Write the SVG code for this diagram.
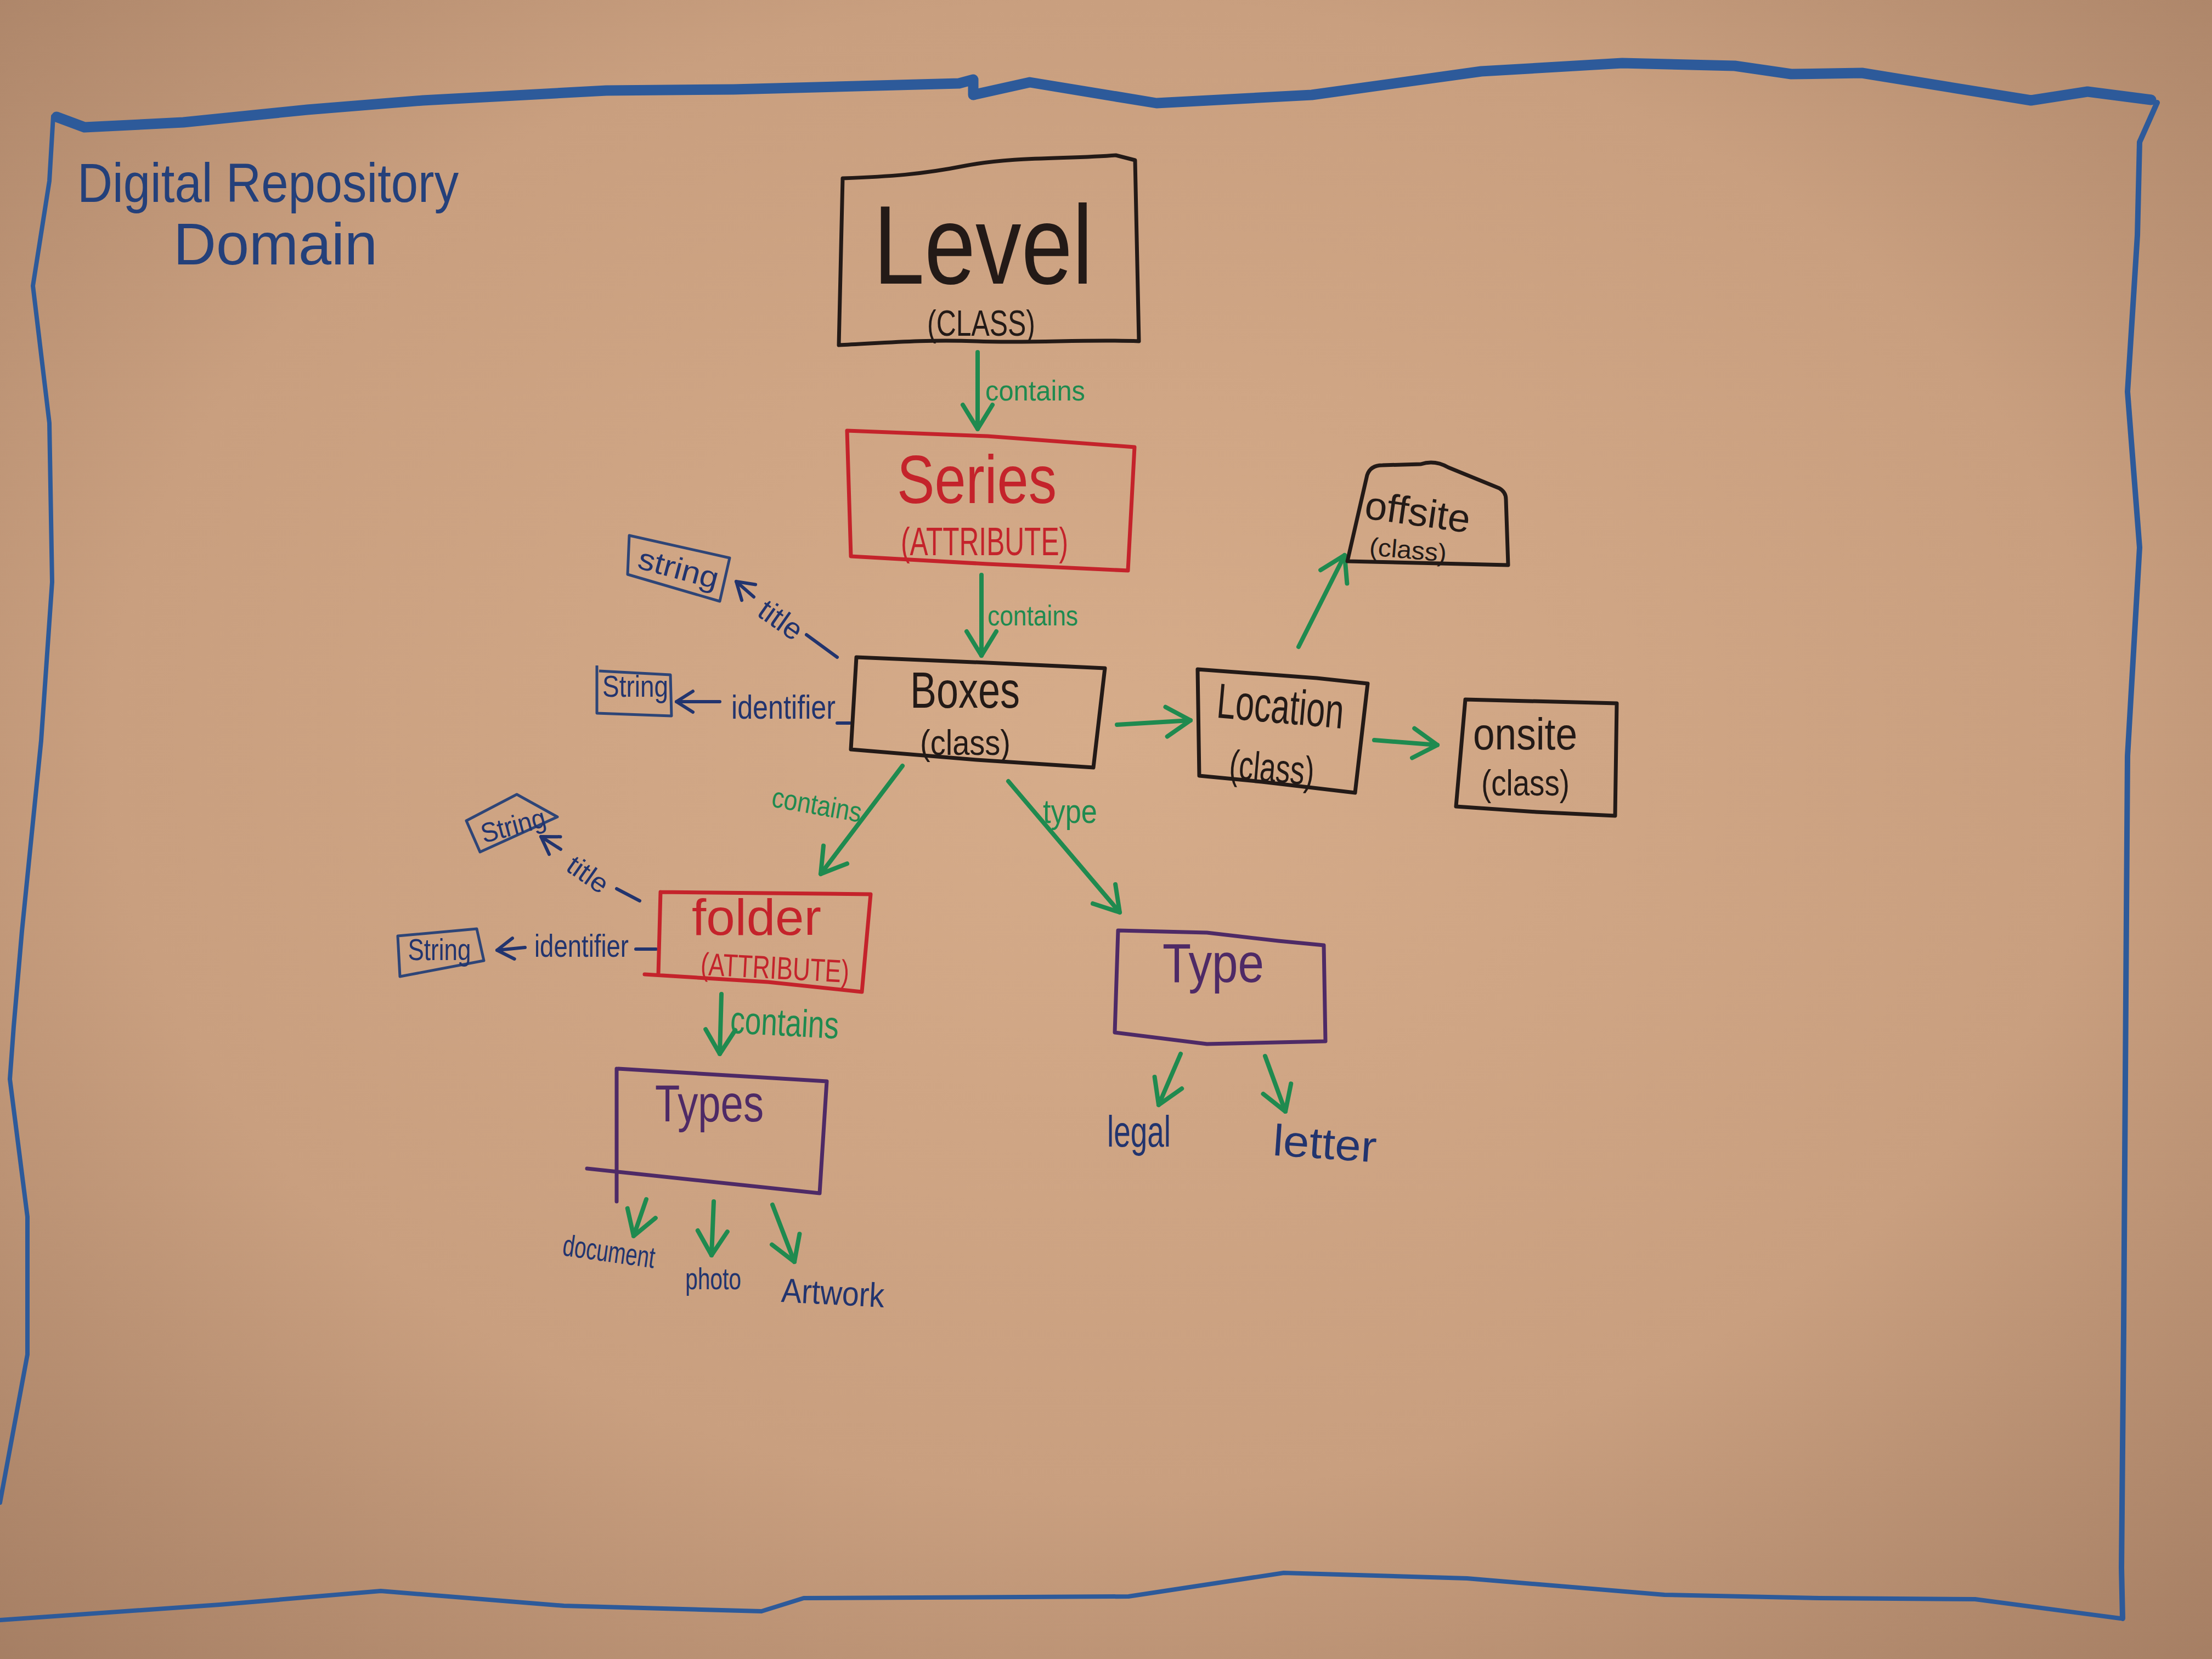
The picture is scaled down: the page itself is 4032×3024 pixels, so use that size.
<svg xmlns="http://www.w3.org/2000/svg" width="4032" height="3024" viewBox="0 0 4032 3024">
<defs>
<radialGradient id="paper" cx="50%" cy="45%" r="75%">
<stop offset="0" stop-color="#d6ac8a"/>
<stop offset="0.6" stop-color="#c99f7f"/>
<stop offset="1" stop-color="#a57e63"/>
</radialGradient>
<marker id="ag" markerUnits="userSpaceOnUse" viewBox="0 0 70 70" refX="62" refY="35" markerWidth="70" markerHeight="70" orient="auto">
<path d="M18,8 L62,35 L18,62" fill="none" stroke="#1f8a4f" stroke-width="8" stroke-linecap="round" stroke-linejoin="round"/>
</marker>
<marker id="an" markerUnits="userSpaceOnUse" viewBox="0 0 50 50" refX="44" refY="25" markerWidth="50" markerHeight="50" orient="auto">
<path d="M14,6 L44,25 L14,44" fill="none" stroke="#22346e" stroke-width="6" stroke-linecap="round" stroke-linejoin="round"/>
</marker>
</defs>
<style>
text{font-family:"Liberation Sans","DejaVu Sans",sans-serif;}
.blk{fill:#231a17;}
.red{fill:#c4232b;}
.grn{fill:#1f8a4f;}
.nav{fill:#22346e;}
.pur{fill:#4e2a66;}
.ttl{fill:#24407a;}
.bx{fill:none;stroke-width:7;stroke-linejoin:round;stroke-linecap:round;}
.bk{stroke:#231a17;}
.rd{stroke:#c4232b;}
.pp{stroke:#4e2a66;}
.nb{stroke:#2e4577;stroke-width:5;fill:none;stroke-linejoin:round;}
.ga{stroke:#1f8a4f;stroke-width:8;fill:none;stroke-linecap:round;marker-end:url(#ag);}
.na{stroke:#22346e;stroke-width:6;fill:none;stroke-linecap:round;}
.brd{fill:none;stroke:#2d5a9a;stroke-linejoin:round;stroke-linecap:round;}
</style>
<rect x="0" y="0" width="4032" height="3024" fill="url(#paper)"/>

<g id="border">
<path class="brd" stroke-width="19" d="M103,213 L154,232 L334,223 L560,200 L771,183 L1105,165 L1337,163 L1748,152 L1774,145 L1774,173 L1877,150 L2108,188 L2391,173 L2700,130 L2957,115 L3162,120 L3265,135 L3394,133 L3702,183 L3805,167 L3921,182"/>
<path class="brd" stroke-width="10" d="M3932,187 L3900,259 L3896,429 L3878,714 L3900,998 L3878,1378 L3875,1814 L3871,2421 L3867,2858 L3869,2950"/>
<path class="brd" stroke-width="8" d="M3865,2950 L3600,2915 L3317,2913 L3034,2907 L2674,2877 L2340,2867 L2057,2910 L1465,2913 L1388,2937 L1028,2927 L694,2900 L400,2925 L0,2953"/>
<path class="brd" stroke-width="8" d="M97,212 L90,330 L60,521 L90,771 L95,1061 L75,1350 L40,1697 L25,1871 L18,1967 L50,2218 L50,2469 L0,2739"/>
</g>

<g id="title">
<text class="ttl" x="141" y="368" font-size="100" textLength="695" lengthAdjust="spacingAndGlyphs">Digital Repository</text>
<text class="ttl" x="316" y="482" font-size="108" textLength="372" lengthAdjust="spacingAndGlyphs">Domain</text>
</g>

<g id="connectors">
<path class="ga" d="M1782,642 L1782,782"/>
<text class="grn" x="1796" y="730" font-size="52" textLength="182" lengthAdjust="spacingAndGlyphs">contains</text>
<path class="ga" d="M1789,1048 L1789,1195"/>
<text class="grn" x="1800" y="1140" font-size="52" textLength="165" lengthAdjust="spacingAndGlyphs">contains</text>
<path class="ga" d="M2036,1321 L2170,1313"/>
<path class="ga" d="M2367,1179 L2451,1012"/>
<path class="ga" d="M2505,1349 L2620,1358"/>
<path class="ga" d="M1645,1396 L1496,1593"/>
<text class="grn" x="1405" y="1485" font-size="52" textLength="165" lengthAdjust="spacingAndGlyphs" transform="rotate(10 1490 1475)">contains</text>
<path class="ga" d="M1838,1424 L2041,1663"/>
<text class="grn" x="1901" y="1500" font-size="62" textLength="99" lengthAdjust="spacingAndGlyphs">type</text>
<path class="ga" d="M1315,1812 L1312,1921"/>
<text class="grn" x="1331" y="1888" font-size="70" textLength="198" lengthAdjust="spacingAndGlyphs" transform="rotate(3 1430 1870)">contains</text>
<path class="ga" d="M1178,2186 L1155,2253"/>
<path class="ga" d="M1301,2190 L1297,2288"/>
<path class="ga" d="M1408,2196 L1448,2300"/>
<path class="ga" d="M2152,1921 L2112,2014"/>
<path class="ga" d="M2306,1925 L2343,2026"/>

<path class="na" marker-end="url(#an)" d="M1374,1088 L1342,1060"/>
<text class="nav" x="1380" y="1145" font-size="55" textLength="85" lengthAdjust="spacingAndGlyphs" transform="rotate(35 1417 1129)">title</text>
<path class="na" d="M1470,1157 L1526,1198"/>
<path class="na" marker-end="url(#an)" d="M1312,1279 L1233,1279"/>
<text class="nav" x="1333" y="1310" font-size="62" textLength="190" lengthAdjust="spacingAndGlyphs">identifier</text>
<path class="na" d="M1526,1318 L1549,1318"/>

<path class="na" marker-end="url(#an)" d="M1022,1548 L986,1525"/>
<text class="nav" x="1032" y="1610" font-size="50" textLength="80" lengthAdjust="spacingAndGlyphs" transform="rotate(35 1070 1593)">title</text>
<path class="na" d="M1124,1620 L1166,1642"/>
<path class="na" marker-end="url(#an)" d="M957,1727 L906,1732"/>
<text class="nav" x="974" y="1744" font-size="58" textLength="172" lengthAdjust="spacingAndGlyphs">identifier</text>
<path class="na" d="M1159,1730 L1196,1730"/>
</g>

<g id="level">
<path class="bx bk" d="M1536,325 C1620,322 1680,318 1760,302 C1850,285 1950,290 2034,283 L2069,292 L2076,622 C1980,618 1880,626 1780,622 C1680,618 1600,626 1529,629 Z"/>
<text class="blk" x="1592" y="517" font-size="205" textLength="400" lengthAdjust="spacingAndGlyphs">Level</text>
<text class="blk" x="1690" y="612" font-size="66" textLength="197" lengthAdjust="spacingAndGlyphs">(CLASS)</text>
</g>

<g id="series">
<path class="bx rd" d="M1544,785 L1800,795 L2068,815 L2056,1040 L1800,1028 L1551,1014 Z"/>
<text class="red" x="1635" y="917" font-size="125" textLength="291" lengthAdjust="spacingAndGlyphs">Series</text>
<text class="red" x="1642" y="1012" font-size="72" textLength="305" lengthAdjust="spacingAndGlyphs">(ATTRIBUTE)</text>
</g>

<g id="boxes">
<path class="bx bk" d="M1561,1198 L1800,1208 L2014,1218 L1993,1399 L1780,1385 L1551,1366 Z"/>
<text class="blk" x="1659" y="1290" font-size="92" textLength="200" lengthAdjust="spacingAndGlyphs">Boxes</text>
<text class="blk" x="1677" y="1376" font-size="64" textLength="165" lengthAdjust="spacingAndGlyphs">(class)</text>
</g>

<g id="boxes-title-string">
<path class="nb" d="M1147,976 L1330,1017 L1312,1096 L1144,1047 Z"/>
<text class="nav" x="1236" y="1055" font-size="55" text-anchor="middle" textLength="150" lengthAdjust="spacingAndGlyphs" transform="rotate(15 1236 1040)">string</text>
</g>

<g id="boxes-identifier-string">
<path class="nb" d="M1088,1213 L1088,1300 L1224,1305 L1222,1230 L1092,1223"/>
<text class="nav" x="1158" y="1270" font-size="55" text-anchor="middle" textLength="120" lengthAdjust="spacingAndGlyphs">String</text>
</g>

<g id="location">
<path class="bx bk" d="M2183,1220 L2400,1236 L2493,1246 L2470,1445 L2300,1425 L2186,1414 Z"/>
<text class="blk" x="2218" y="1318" font-size="90" textLength="232" lengthAdjust="spacingAndGlyphs" transform="rotate(5 2334 1290)">Location</text>
<text class="blk" x="2241" y="1425" font-size="74" textLength="155" lengthAdjust="spacingAndGlyphs" transform="rotate(5 2318 1400)">(class)</text>
</g>

<g id="offsite">
<path class="bx bk" d="M2456,1023 L2492,866 Q2498,848 2520,848 L2590,846 Q2615,838 2640,852 L2733,890 Q2745,897 2745,910 L2749,1030 Z"/>
<text class="blk" x="2487" y="958" font-size="72" textLength="193" lengthAdjust="spacingAndGlyphs" transform="rotate(8 2583 938)">offsite</text>
<text class="blk" x="2496" y="1018" font-size="46" textLength="141" lengthAdjust="spacingAndGlyphs" transform="rotate(5 2566 1003)">(class)</text>
</g>

<g id="onsite">
<path class="bx bk" d="M2671,1275 L2947,1282 L2944,1487 L2800,1480 L2654,1470 Z"/>
<text class="blk" x="2685" y="1366" font-size="82" textLength="190" lengthAdjust="spacingAndGlyphs">onsite</text>
<text class="blk" x="2700" y="1450" font-size="66" textLength="161" lengthAdjust="spacingAndGlyphs">(class)</text>
</g>

<g id="folder">
<path class="bx rd" d="M1204,1626 L1587,1630 L1571,1808 L1400,1790 L1175,1776 M1204,1626 L1200,1776"/>
<text class="red" x="1261" y="1704" font-size="92" textLength="236" lengthAdjust="spacingAndGlyphs">folder</text>
<text class="red" x="1277" y="1784" font-size="58" textLength="271" lengthAdjust="spacingAndGlyphs" transform="rotate(3 1412 1765)">(ATTRIBUTE)</text>
</g>

<g id="folder-title-string">
<path class="nb" d="M850,1496 L942,1448 L1016,1489 L875,1553 Z"/>
<text class="nav" x="936" y="1522" font-size="50" text-anchor="middle" textLength="120" lengthAdjust="spacingAndGlyphs" transform="rotate(-15 936 1508)">String</text>
</g>

<g id="folder-identifier-string">
<path class="nb" d="M725,1706 L869,1693 L882,1751 L729,1780 Z"/>
<text class="nav" x="801" y="1750" font-size="55" text-anchor="middle" textLength="115" lengthAdjust="spacingAndGlyphs">String</text>
</g>

<g id="types">
<path class="bx pp" d="M1127,1948 L1507,1971 L1494,2175 M1070,2130 L1494,2175 M1124,1948 L1124,2190"/>
<text class="pur" x="1194" y="2044" font-size="95" textLength="198" lengthAdjust="spacingAndGlyphs">Types</text>
</g>

<g id="type">
<path class="bx pp" d="M2038,1696 L2200,1700 L2330,1715 L2413,1723 L2416,1898 L2200,1903 L2032,1882 Z"/>
<text class="pur" x="2119" y="1790" font-size="100" textLength="185" lengthAdjust="spacingAndGlyphs">Type</text>
</g>

<g id="values">
<text class="nav" x="1025" y="2300" font-size="55" textLength="169" lengthAdjust="spacingAndGlyphs" transform="rotate(8 1110 2285)">document</text>
<text class="nav" x="1249" y="2350" font-size="55" textLength="102" lengthAdjust="spacingAndGlyphs">photo</text>
<text class="nav" x="1424" y="2378" font-size="62" textLength="188" lengthAdjust="spacingAndGlyphs" transform="rotate(3 1518 2360)">Artwork</text>
<text class="nav" x="2018" y="2090" font-size="80" textLength="116" lengthAdjust="spacingAndGlyphs">legal</text>
<text class="nav" x="2320" y="2112" font-size="80" textLength="189" lengthAdjust="spacingAndGlyphs" transform="rotate(4 2414 2090)">letter</text>
</g>
</svg>
